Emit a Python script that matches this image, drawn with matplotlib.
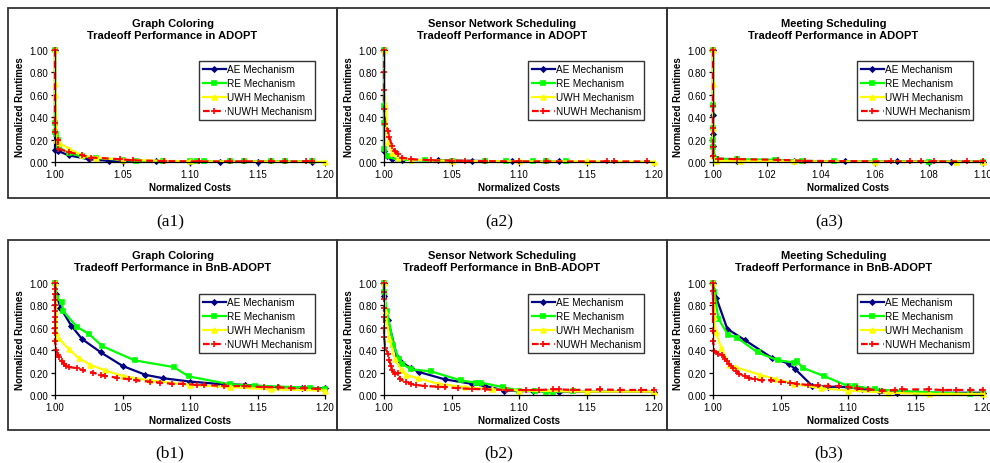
import matplotlib
matplotlib.use("Agg")
import matplotlib.pyplot as plt
from matplotlib.patches import Rectangle
from matplotlib.ticker import MultipleLocator, FormatStrFormatter

plt.rcParams['font.family'] = ['Liberation Sans', 'DejaVu Sans']

# --- data (normalized cost, normalized runtime) ---
mechanisms = ['AE Mechanism', 'RE Mechanism', 'UWH Mechanism', 'NUWH Mechanism']

# (a1) Graph Coloring, ADOPT
a1_ae_x = [1.000, 1.000, 1.002, 1.010, 1.025, 1.040, 1.050, 1.075, 1.100, 1.122, 1.150, 1.190]
a1_ae_y = [1.00, 0.11, 0.10, 0.06, 0.025, 0.010, 0.005, 0.005, 0.003, 0.003, 0.003, 0.003]
a1_re_x = [1.000, 1.000, 1.000, 1.001, 1.002, 1.003, 1.010, 1.020, 1.030, 1.050, 1.060, 1.080,
           1.100, 1.105, 1.110, 1.130, 1.140, 1.160, 1.170, 1.190]
a1_re_y = [1.00, 0.35, 0.27, 0.25, 0.20, 0.13, 0.08, 0.05, 0.035, 0.02, 0.01, 0.005,
           0.005, 0.005, 0.005, 0.005, 0.005, 0.005, 0.005, 0.005]
a1_uwh_x = [1.000, 1.000, 1.000, 1.001, 1.003, 1.010, 1.020, 1.030, 1.050, 1.100, 1.200]
a1_uwh_y = [1.00, 0.70, 0.60, 0.20, 0.17, 0.12, 0.06, 0.04, 0.02, 0.005, 0.003]
a1_nuwh_x = [1.000, 1.000, 1.000, 1.002, 1.002, 1.010, 1.020, 1.027, 1.048, 1.058, 1.081,
             1.107, 1.130, 1.140, 1.160, 1.170, 1.186, 1.190]
a1_nuwh_y = [1.00, 0.35, 0.27, 0.20, 0.12, 0.09, 0.06, 0.04, 0.025, 0.015, 0.008,
             0.005, 0.005, 0.005, 0.005, 0.005, 0.005, 0.005]

# (a2) Sensor Network Scheduling, ADOPT
a2_ae_x = [1.000, 1.000, 1.002, 1.006, 1.013, 1.040, 1.065, 1.095, 1.130]
a2_ae_y = [1.00, 0.10, 0.05, 0.03, 0.02, 0.015, 0.01, 0.005, 0.005]
a2_re_x = [1.000, 1.000, 1.000, 1.000, 1.002, 1.010, 1.030, 1.050, 1.075, 1.090, 1.110,
           1.120, 1.135]
a2_re_y = [1.00, 0.50, 0.35, 0.12, 0.05, 0.02, 0.015, 0.01, 0.008, 0.005, 0.005, 0.005, 0.005]
a2_uwh_x = [1.000, 1.001, 1.003, 1.006, 1.010, 1.020, 1.050, 1.100, 1.150, 1.200]
a2_uwh_y = [1.00, 0.50, 0.18, 0.08, 0.04, 0.02, 0.01, 0.005, 0.005, 0.003]
a2_nuwh_x = [1.000, 1.000, 1.000, 1.000, 1.001, 1.003, 1.004, 1.006, 1.008, 1.010, 1.013,
             1.020, 1.035, 1.050, 1.060, 1.075, 1.100, 1.120, 1.165, 1.170, 1.195]
a2_nuwh_y = [1.00, 0.80, 0.64, 0.47, 0.34, 0.28, 0.22, 0.14, 0.10, 0.07, 0.04,
             0.025, 0.015, 0.012, 0.01, 0.008, 0.005, 0.005, 0.005, 0.005, 0.005]

# (a3) Meeting Scheduling, ADOPT
a3_ae_x = [1.000, 1.000, 1.000, 1.000, 1.000, 1.001, 1.009, 1.030, 1.049, 1.068, 1.080,
           1.088, 1.100]
a3_ae_y = [1.00, 0.42, 0.25, 0.14, 0.05, 0.02, 0.01, 0.008, 0.005, 0.005, 0.003, 0.003, 0.003]
a3_re_x = [1.000, 1.000, 1.000, 1.000, 1.000, 1.001, 1.009, 1.023, 1.033, 1.045, 1.060,
           1.080, 1.100]
a3_re_y = [1.00, 0.51, 0.30, 0.20, 0.13, 0.03, 0.025, 0.02, 0.01, 0.005, 0.005, 0.003, 0.003]
a3_uwh_x = [1.000, 1.000, 1.000, 1.000, 1.001, 1.010, 1.030, 1.060, 1.090, 1.100]
a3_uwh_y = [1.00, 0.70, 0.30, 0.05, 0.01, 0.01, 0.005, 0.003, 0.002, 0.002]
a3_nuwh_x = [1.000, 1.000, 1.000, 1.000, 1.000, 1.002, 1.009, 1.024, 1.034, 1.066, 1.073,
             1.077, 1.082, 1.094, 1.100]
a3_nuwh_y = [1.00, 0.50, 0.30, 0.13, 0.05, 0.03, 0.025, 0.02, 0.01, 0.005, 0.005,
             0.005, 0.005, 0.005, 0.005]

# (b1) Graph Coloring, BnB-ADOPT
b1_ae_x = [1.000, 1.001, 1.004, 1.012, 1.020, 1.034, 1.050, 1.067, 1.080, 1.100, 1.120,
           1.141, 1.165, 1.183, 1.200]
b1_ae_y = [1.00, 0.90, 0.78, 0.62, 0.50, 0.38, 0.26, 0.18, 0.15, 0.12, 0.10,
           0.09, 0.07, 0.065, 0.06]
b1_re_x = [1.000, 1.001, 1.005, 1.006, 1.016, 1.025, 1.035, 1.059, 1.088, 1.099, 1.130,
           1.148, 1.189, 1.200]
b1_re_y = [1.00, 0.87, 0.83, 0.75, 0.61, 0.546, 0.436, 0.309, 0.249, 0.166, 0.095,
           0.083, 0.065, 0.055]
b1_uwh_x = [1.000, 1.001, 1.0025, 1.010, 1.0175, 1.026, 1.037, 1.050, 1.070, 1.100, 1.130,
            1.160, 1.200]
b1_uwh_y = [1.00, 0.55, 0.51, 0.41, 0.33, 0.27, 0.22, 0.17, 0.13, 0.09, 0.07, 0.05, 0.04]
b1_nuwh_x = [1.000, 1.000, 1.000, 1.000, 1.000, 1.000, 1.000, 1.000, 1.000, 1.000, 1.000,
             1.001, 1.002, 1.003, 1.005, 1.007, 1.008, 1.010, 1.016, 1.021, 1.028, 1.034,
             1.037, 1.046, 1.055, 1.060, 1.070, 1.078, 1.087, 1.095, 1.105, 1.110, 1.125,
             1.140, 1.155, 1.165, 1.175, 1.185, 1.195]
b1_nuwh_y = [1.00, 0.95, 0.90, 0.85, 0.80, 0.75, 0.70, 0.65, 0.60, 0.55, 0.48,
             0.40, 0.36, 0.34, 0.30, 0.28, 0.26, 0.25, 0.24, 0.22, 0.20, 0.18,
             0.17, 0.155, 0.14, 0.13, 0.12, 0.11, 0.10, 0.10, 0.09, 0.09, 0.08,
             0.08, 0.07, 0.07, 0.06, 0.06, 0.055]

# (b2) Sensor Network Scheduling, BnB-ADOPT
b2_ae_x = [1.000, 1.000, 1.003, 1.0096, 1.012, 1.020, 1.026, 1.045, 1.065, 1.075, 1.089,
           1.100, 1.110, 1.130, 1.200]
b2_ae_y = [1.00, 0.88, 0.67, 0.34, 0.30, 0.24, 0.205, 0.14, 0.10, 0.08, 0.04,
           0.035, 0.035, 0.03, 0.03]
b2_re_x = [1.000, 1.000, 1.002, 1.007, 1.011, 1.013, 1.020, 1.035, 1.057, 1.068, 1.072,
           1.088, 1.100, 1.112, 1.120, 1.125, 1.140]
b2_re_y = [1.00, 0.92, 0.75, 0.45, 0.32, 0.28, 0.23, 0.21, 0.13, 0.11, 0.11,
           0.07, 0.04, 0.035, 0.03, 0.03, 0.035]
b2_uwh_x = [1.000, 1.001, 1.004, 1.008, 1.013, 1.016, 1.025, 1.040, 1.060, 1.080, 1.100,
            1.150, 1.200]
b2_uwh_y = [1.00, 0.75, 0.50, 0.32, 0.22, 0.18, 0.15, 0.10, 0.07, 0.05, 0.04, 0.03, 0.03]
b2_nuwh_x = [1.000, 1.000, 1.000, 1.000, 1.000, 1.000, 1.000, 1.001, 1.003, 1.004, 1.005,
             1.006, 1.008, 1.010, 1.012, 1.016, 1.020, 1.024, 1.030, 1.040, 1.045, 1.055,
             1.065, 1.075, 1.090, 1.105, 1.115, 1.125, 1.130, 1.140, 1.160, 1.175, 1.190,
             1.200]
b2_nuwh_y = [1.00, 0.92, 0.86, 0.78, 0.70, 0.60, 0.52, 0.42, 0.37, 0.31, 0.26,
             0.22, 0.19, 0.20, 0.14, 0.12, 0.10, 0.09, 0.08, 0.075, 0.07, 0.06,
             0.055, 0.05, 0.045, 0.045, 0.045, 0.05, 0.05, 0.045, 0.05, 0.045, 0.045,
             0.045]

# (b3) Meeting Scheduling, BnB-ADOPT
b3_ae_x = [1.000, 1.0025, 1.0106, 1.024, 1.044, 1.056, 1.061, 1.0736, 1.085, 1.100, 1.110,
           1.123, 1.136, 1.150, 1.200]
b3_ae_y = [1.00, 0.866, 0.59, 0.487, 0.33, 0.28, 0.23, 0.08, 0.075, 0.07, 0.05,
           0.04, 0.02, 0.02, 0.02]
b3_re_x = [1.000, 1.001, 1.004, 1.011, 1.018, 1.033, 1.048, 1.060, 1.062, 1.067, 1.082,
           1.100, 1.105, 1.120, 1.150, 1.190, 1.200]
b3_re_y = [1.00, 0.92, 0.68, 0.54, 0.51, 0.38, 0.31, 0.29, 0.30, 0.24, 0.17,
           0.08, 0.08, 0.05, 0.03, 0.01, 0.01]
b3_uwh_x = [1.000, 1.001, 1.002, 1.006, 1.012, 1.016, 1.035, 1.047, 1.060, 1.080, 1.100,
            1.130, 1.160, 1.200]
b3_uwh_y = [1.00, 0.70, 0.56, 0.42, 0.27, 0.25, 0.18, 0.14, 0.10, 0.06, 0.04, 0.02, 0.01, 0.01]
b3_nuwh_x = [1.000, 1.000, 1.000, 1.000, 1.000, 1.000, 1.001, 1.004, 1.007, 1.009, 1.010,
             1.012, 1.015, 1.017, 1.019, 1.024, 1.027, 1.031, 1.036, 1.043, 1.050, 1.057,
             1.062, 1.070, 1.078, 1.085, 1.093, 1.100, 1.107, 1.115, 1.125, 1.135, 1.140,
             1.160, 1.170, 1.180, 1.190, 1.200]
b3_nuwh_y = [1.00, 0.93, 0.82, 0.72, 0.57, 0.48, 0.39, 0.37, 0.36, 0.32, 0.30,
             0.28, 0.24, 0.21, 0.19, 0.17, 0.15, 0.14, 0.13, 0.13, 0.12, 0.11,
             0.10, 0.09, 0.085, 0.08, 0.08, 0.07, 0.06, 0.05, 0.04, 0.045, 0.05,
             0.05, 0.045, 0.045, 0.045, 0.045]

titles = ['Graph Coloring', 'Sensor Network Scheduling', 'Meeting Scheduling']
algorithms = ['ADOPT', 'BnB-ADOPT']
captions = [['(a1)', '(a2)', '(a3)'], ['(b1)', '(b2)', '(b3)']]
series = [
    [[(a1_ae_x, a1_ae_y), (a1_re_x, a1_re_y), (a1_uwh_x, a1_uwh_y), (a1_nuwh_x, a1_nuwh_y)],
     [(a2_ae_x, a2_ae_y), (a2_re_x, a2_re_y), (a2_uwh_x, a2_uwh_y), (a2_nuwh_x, a2_nuwh_y)],
     [(a3_ae_x, a3_ae_y), (a3_re_x, a3_re_y), (a3_uwh_x, a3_uwh_y), (a3_nuwh_x, a3_nuwh_y)]],
    [[(b1_ae_x, b1_ae_y), (b1_re_x, b1_re_y), (b1_uwh_x, b1_uwh_y), (b1_nuwh_x, b1_nuwh_y)],
     [(b2_ae_x, b2_ae_y), (b2_re_x, b2_re_y), (b2_uwh_x, b2_uwh_y), (b2_nuwh_x, b2_nuwh_y)],
     [(b3_ae_x, b3_ae_y), (b3_re_x, b3_re_y), (b3_uwh_x, b3_uwh_y), (b3_nuwh_x, b3_nuwh_y)]],
]
xmax = [[1.20, 1.20, 1.10], [1.20, 1.20, 1.20]]
xstep = [[0.05, 0.05, 0.02], [0.05, 0.05, 0.05]]

# excel-like line styles
colors = ['#000080', '#00FF00', '#FFFF00', '#FF0000']
markers = ['D', 's', '^', '+']
msizes = [2.5, 3.5, 3.5, 5]
lstyles = ['-', '-', '-', (0, (3, 2))]

# --- layout in pixels ---
W, H = 990, 464
fig = plt.figure(figsize=(W / 100, H / 100), dpi=100)

box_left = [8, 337, 667]
box_right = [337, 667, 1000]
box_top = [9, 241]
box_bot = [199, 431]
ax_top = [51, 284]
ax_bot = [163, 396]
ax_off = [47, 47, 46]
ax_w = 270
cap_y = [222, 453]


def fx(px):
    return px / W


def fy(py):
    return 1 - py / H


for r in range(2):
    for c in range(3):
        # panel frame
        fig.patches.append(Rectangle((fx(box_left[c]), fy(box_bot[r])),
                                     fx(box_right[c] - box_left[c]),
                                     (box_bot[r] - box_top[r]) / H,
                                     transform=fig.transFigure, fill=False,
                                     edgecolor='#333333', linewidth=1.3))
        left = box_left[c] + ax_off[c]
        ax = fig.add_axes([fx(left), fy(ax_bot[r]), fx(ax_w),
                           (ax_bot[r] - ax_top[r]) / H])
        for i, (xs, ys) in enumerate(series[r][c]):
            ax.plot(xs, ys, color=colors[i], linestyle=lstyles[i], linewidth=1.6,
                    marker=markers[i], markersize=msizes[i], markeredgewidth=1.2,
                    markeredgecolor=colors[i], label=mechanisms[i], clip_on=False)
        ax.set_xlim(1.0, xmax[r][c])
        ax.set_ylim(0, 1.0)
        ax.xaxis.set_major_locator(MultipleLocator(xstep[r][c]))
        ax.yaxis.set_major_locator(MultipleLocator(0.2))
        ax.xaxis.set_major_formatter(FormatStrFormatter('%.2f'))
        ax.yaxis.set_major_formatter(FormatStrFormatter('%.2f'))
        for s in ['top', 'right']:
            ax.spines[s].set_visible(False)
        for s in ['left', 'bottom']:
            ax.spines[s].set_linewidth(0.9)
        ax.tick_params(direction='out', length=3, width=0.9, labelsize=7,
                       pad=2, colors='black')
        ax.set_xlabel('Normalized Costs', fontsize=7, fontweight='bold', labelpad=2)
        ax.set_ylabel('Normalized Runtimes', fontsize=7, fontweight='bold', labelpad=3)
        leg = ax.legend(loc='upper left', bbox_to_anchor=(0.515, 0.95), fontsize=7.2,
                        frameon=True, fancybox=False, edgecolor='black',
                        handlelength=2.3, handletextpad=0.1, labelspacing=0.4,
                        borderpad=0.35, numpoints=1)
        leg.get_frame().set_linewidth(1.0)

        cx = (box_left[c] + min(box_right[c], 1007)) / 2
        fig.text(fx(cx), fy(box_top[r] + 21), titles[c] + '\nTradeoff Performance in ' + algorithms[r],
                 ha='center', va='center', fontsize=8, fontweight='bold',
                 linespacing=1.2)
        fig.text(fx(box_left[c] + 162), fy(cap_y[r]), captions[r][c], ha='center',
                 va='center', fontsize=12.5, family=['Liberation Serif', 'DejaVu Serif'])

fig.savefig('out.png', dpi=100)
